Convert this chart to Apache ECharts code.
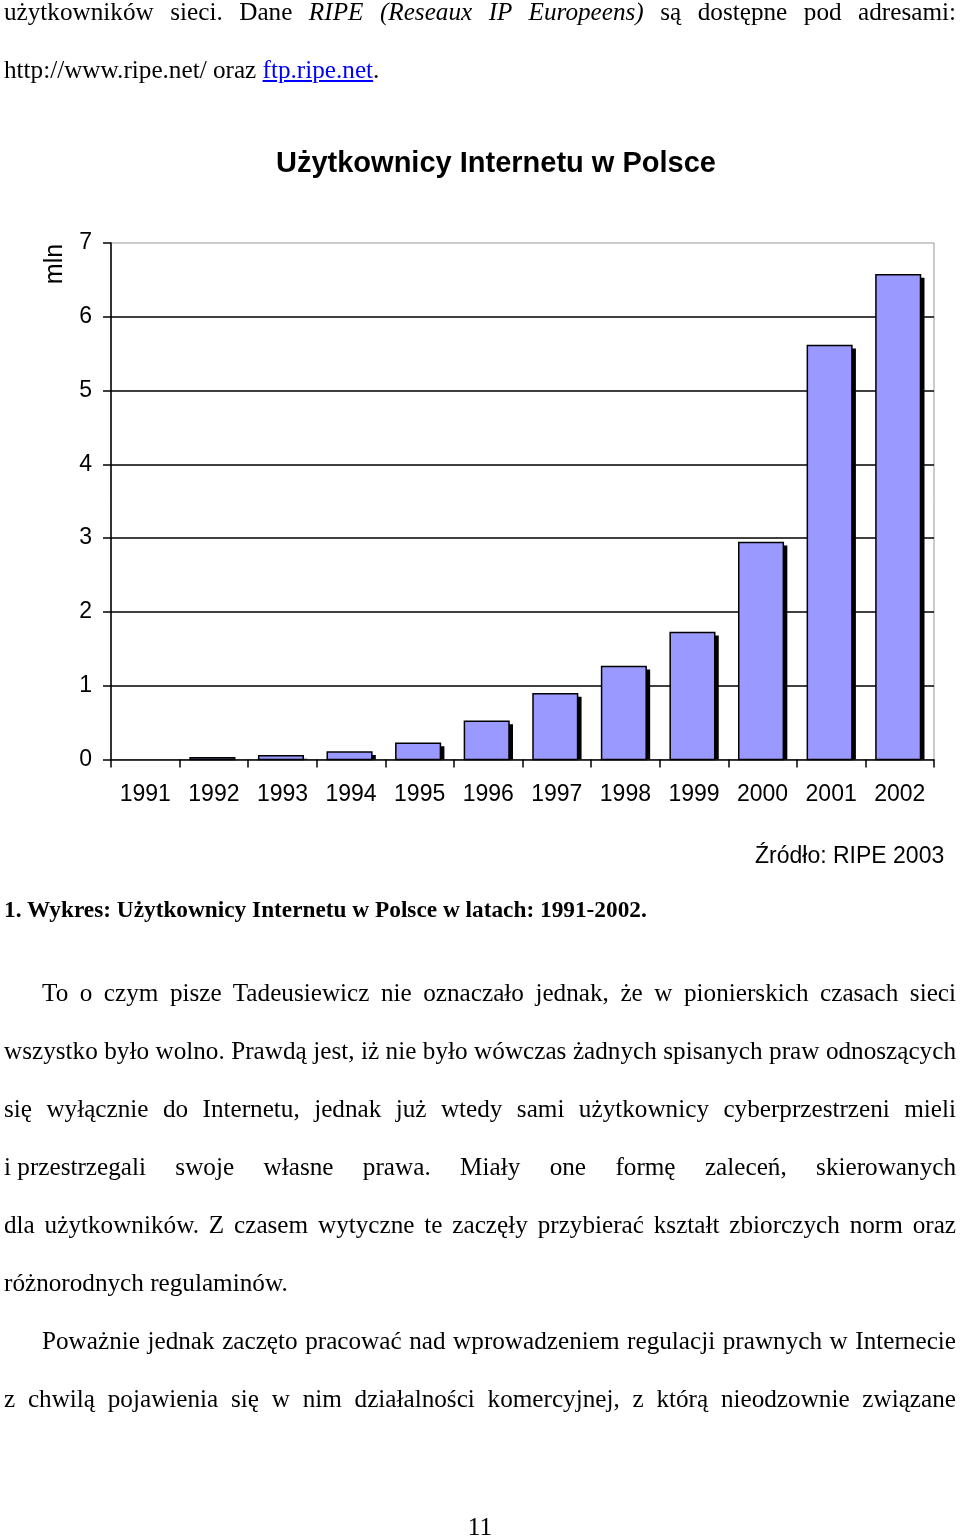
<!DOCTYPE html>
<html>
<head>
<meta charset="utf-8">
<script src="https://cdn.jsdelivr.net/npm/echarts@6/dist/echarts.min.js"></script>
<style>
  html, body { margin: 0; padding: 0; background: #fff; }
  #page { position: relative; width: 960px; height: 1537px; overflow: hidden; background: #fff; }
  #chart { position: absolute; left: 0; top: 0; width: 960px; height: 1537px; }
  .ln { position: absolute; left: 4px; width: 952px; font-family: "Liberation Serif", "Times New Roman", serif;
        font-size: 25.2px; line-height: 25.2px; white-space: nowrap; color: #000; z-index: 2; }
  .j { text-align: justify; text-align-last: justify; }
  .ind { left: 42px; width: 914px; }
  .b { font-weight: bold; font-size: 23.3px; line-height: 23.3px; }
  .ib { display: inline-block; }
  a { color: #0000ff; text-decoration: underline; }
</style>
</head>
<body>
<div id="page">
  <div id="chart"></div>
  <div class="ln j" style="top:-1px">użytkowników sieci. Dane <i>RIPE (Reseaux IP Europeens)</i> są dostępne pod adresami:</div>
  <div class="ln" style="top:57px">http://www.ripe.net/ oraz <a>ftp.ripe.net</a>.</div>
  <div class="ln b" style="top:898px">1. Wykres: Użytkownicy Internetu w Polsce w latach: 1991-2002.</div>
  <div class="ln j ind" style="top:980px">To o czym pisze Tadeusiewicz nie oznaczało jednak, że w pionierskich czasach sieci</div>
  <div class="ln j" style="top:1038px">wszystko było wolno. Prawdą jest, iż nie było wówczas żadnych spisanych praw odnoszących</div>
  <div class="ln j" style="top:1096px">się wyłącznie do Internetu, jednak już wtedy sami użytkownicy cyberprzestrzeni mieli</div>
  <div class="ln j" style="top:1154px"><span class="ib">i przestrzegali</span> swoje własne prawa. Miały one formę zaleceń, skierowanych</div>
  <div class="ln j" style="top:1212px">dla użytkowników. Z czasem wytyczne te zaczęły przybierać kształt zbiorczych norm oraz</div>
  <div class="ln" style="top:1270px">różnorodnych regulaminów.</div>
  <div class="ln j ind" style="top:1328px">Poważnie jednak zaczęto pracować nad wprowadzeniem regulacji prawnych w Internecie</div>
  <div class="ln j" style="top:1386px">z chwilą pojawienia się w nim działalności komercyjnej, z którą nieodzownie związane</div>
  <div class="ln" style="top:1514px; text-align:center; left:0; width:960px;">11</div>
</div>
<script>
const years = ['1991','1992','1993','1994','1995','1996','1997','1998','1999','2000','2001','2002'];
const users = [0, 0.025, 0.05, 0.1, 0.22, 0.52, 0.89, 1.26, 1.72, 2.94, 5.61, 6.57];
const chartTitle = 'Użytkownicy Internetu w Polsce';
const unitLabel = 'mln';
const sourceLabel = 'Źródło: RIPE 2003';

const FONT = '"Liberation Sans", Arial, sans-serif';
const chart = echarts.init(document.getElementById('chart'), null, { renderer: 'canvas' });

function renderBar(params, api) {
  const idx = api.value(0);
  const val = api.value(1);
  const top = api.coord([idx, val]);
  const base = api.coord([idx, 0]);
  const w = api.size([1, 0])[0] * 0.65;
  const h = base[1] - top[1];
  if (h <= 0) return null;
  const x0 = top[0] - w / 2 - 1.5;
  const sh = 4, sv = 3;
  return {
    type: 'group',
    children: [
      { type: 'rect', shape: { x: x0 + sh, y: top[1] + sv, width: w, height: Math.max(h - sv, 0) },
        style: { fill: '#000' } },
      { type: 'rect', shape: { x: x0, y: top[1], width: w, height: h },
        style: { fill: '#9999ff', stroke: '#000', lineWidth: 1.5 } }
    ]
  };
}

chart.setOption({
  animation: false,
  backgroundColor: 'transparent',
  title: {
    text: chartTitle, left: 276, top: 149, padding: 0,
    textStyle: { fontFamily: FONT, fontWeight: 'bold', fontSize: 29, color: '#000' }
  },
  grid: {
    left: 111, right: 26, top: 243, bottom: 777.5,
    show: true, borderColor: '#999', borderWidth: 1, backgroundColor: 'transparent'
  },
  xAxis: {
    type: 'category', data: years, boundaryGap: true,
    axisLine: { show: true, lineStyle: { color: '#000', width: 1.5 } },
    axisTick: { show: true, alignWithLabel: false, interval: 0, length: 8, lineStyle: { color: '#000', width: 1.5 } },
    axisLabel: { interval: 0, margin: 24, fontFamily: FONT, fontSize: 23, color: '#000' },
    splitLine: { show: false }
  },
  yAxis: {
    type: 'value', min: 0, max: 7, interval: 1,
    axisLine: { show: true, lineStyle: { color: '#000', width: 1.5 } },
    axisTick: { show: true, length: 8, lineStyle: { color: '#000', width: 1.5 } },
    axisLabel: { margin: 19, fontFamily: FONT, fontSize: 23, color: '#000' },
    splitLine: { show: true, showMinLine: false, showMaxLine: false, lineStyle: { color: '#000', width: 1.5 } }
  },
  graphic: [
    { type: 'text', x: 55, y: 264, rotation: Math.PI / 2,
      style: { text: unitLabel, fontFamily: FONT, fontSize: 25, fill: '#000', align: 'center', verticalAlign: 'middle' } },
    { type: 'text', x: 755, y: 857,
      style: { text: sourceLabel, fontFamily: FONT, fontSize: 23, fill: '#000', align: 'left', verticalAlign: 'middle' } }
  ],
  series: [{
    type: 'custom',
    data: users.map((v, i) => [i, v]),
    encode: { x: 0, y: 1 },
    renderItem: renderBar
  }]
});
</script>
</body>
</html>
